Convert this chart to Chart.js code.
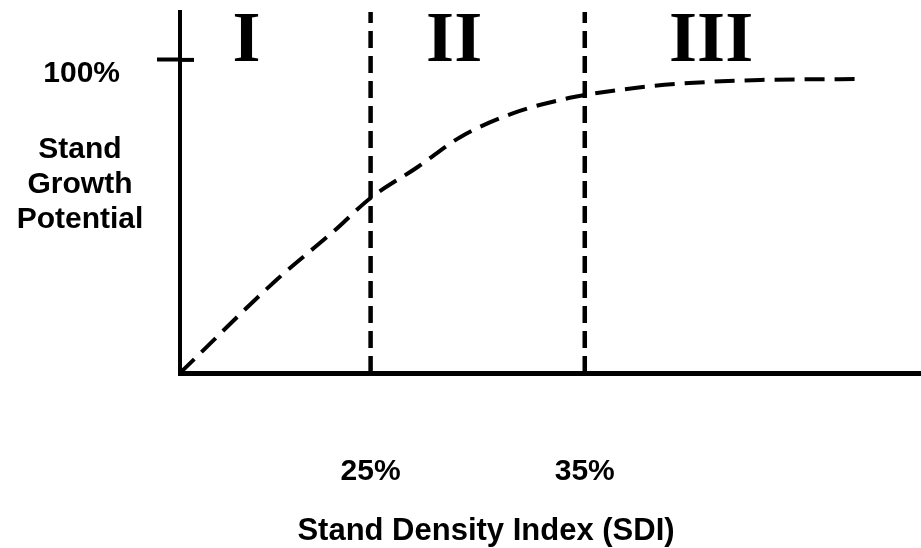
<!DOCTYPE html>
<html>
<head>
<meta charset="utf-8">
<script src="https://cdn.jsdelivr.net/npm/chart.js@4.4.1/dist/chart.umd.min.js"></script>
<style>
  html, body { margin: 0; padding: 0; background: #ffffff; }
  #wrap { width: 921px; height: 548px; }
</style>
</head>
<body>
<div id="wrap"><canvas id="c" width="921" height="548"></canvas></div>
<script>
// ---- data ----
const sdiPercent     = [16.1, 20.6, 23.3, 25.0, 27.2, 29.2, 31.7, 34.3, 35.0, 37.8, 40.1, 43.2, 48.0];
const growthPercent  = [0,    29.7, 45.4, 55.9, 65.8, 75.4, 83.1, 87.9, 88.8, 91.4, 92.7, 93.6, 93.9];
const thresholdSDI   = [25, 35];
const xTickLabels    = ['25%', '35%'];
const yTickValues    = [100];
const yTickLabels    = ['100%'];
const zoneLabels     = ['I', 'II', 'III'];
const zoneCenters    = [19.2, 28.9, 40.9];
const xTitle         = 'Stand Density Index (SDI)';
const yTitleLines    = ['Stand', 'Growth', 'Potential'];
const xRange         = [16.1, 50.7];
const yRange         = [0, 115.3];

const SANS = '"Liberation Sans", Arial, sans-serif';
const SERIF = '"Liberation Serif", "Times New Roman", serif';

const curve = sdiPercent.map((x, i) => ({ x: x, y: growthPercent[i] }));
const thresholdSets = thresholdSDI.map(v => ({
  data: [{ x: v, y: yRange[0] }, { x: v, y: yRange[1] }],
  borderColor: '#000', borderWidth: 4.5, borderDash: [17, 8],
  pointRadius: 0, fill: false, clip: false, tension: 0
}));

const annotate = {
  id: 'annotate',
  afterDraw(chart) {
    const ctx = chart.ctx;
    const xs = chart.scales.x, ys = chart.scales.y;
    ctx.save();
    ctx.fillStyle = '#000';
    // zone numerals
    ctx.font = 'bold 72px ' + SERIF;
    ctx.textAlign = 'center';
    ctx.textBaseline = 'alphabetic';
    zoneLabels.forEach((t, i) => ctx.fillText(t, xs.getPixelForValue(zoneCenters[i]), 61));
    // y title (horizontal, stacked)
    ctx.font = 'bold 30px ' + SANS;
    yTitleLines.forEach((t, i) => ctx.fillText(t, 80, 158 + i * 35));
    // x title
    ctx.font = 'bold 31px ' + SANS;
    ctx.fillText(xTitle, 486, 540);
    // inner part of the 100% tick mark
    ctx.strokeStyle = '#000';
    ctx.lineWidth = 4;
    yTickValues.forEach(v => {
      const py = ys.getPixelForValue(v);
      ctx.beginPath();
      ctx.moveTo(xs.left, py);
      ctx.lineTo(xs.left + 14, py);
      ctx.stroke();
    });
    ctx.restore();
  }
};

function noPad(s) { s.paddingTop = 0; s.paddingBottom = 0; s.paddingLeft = 0; s.paddingRight = 0; }

new Chart(document.getElementById('c'), {
  type: 'line',
  data: {
    datasets: [
      {
        data: curve,
        borderColor: '#000', borderWidth: 4, borderDash: [20, 10],
        pointRadius: 0, fill: false, cubicInterpolationMode: 'monotone'
      },
      ...thresholdSets
    ]
  },
  options: {
    responsive: false,
    animation: false,
    devicePixelRatio: 1,
    layout: { padding: { top: 12, left: 0, right: 0, bottom: 0 } },
    plugins: { legend: { display: false }, tooltip: { enabled: false }, title: { display: false } },
    scales: {
      x: {
        type: 'linear',
        min: xRange[0], max: xRange[1],
        afterFit(s) { s.height = 175; noPad(s); },
        afterBuildTicks(s) { s.ticks = thresholdSDI.map(v => ({ value: v })); },
        ticks: {
          color: '#000', padding: 81,
          font: { family: SANS, size: 30, weight: 'bold' },
          maxRotation: 0, autoSkip: false,
          callback: (v) => xTickLabels[thresholdSDI.indexOf(v)]
        },
        grid: { drawOnChartArea: false, drawTicks: false },
        border: { display: true, color: '#000', width: 5 }
      },
      y: {
        type: 'linear',
        min: yRange[0], max: yRange[1],
        afterFit(s) { s.width = 180; noPad(s); },
        afterBuildTicks(s) { s.ticks = yTickValues.map(v => ({ value: v })); },
        ticks: {
          color: '#000', padding: 37, labelOffset: 14,
          font: { family: SANS, size: 30, weight: 'bold' },
          callback: (v) => yTickLabels[yTickValues.indexOf(v)]
        },
        grid: { drawOnChartArea: false, drawTicks: true, tickLength: 23, tickWidth: 4, tickColor: '#000' },
        border: { display: true, color: '#000', width: 4 }
      }
    }
  },
  plugins: [annotate]
});
</script>
</body>
</html>
